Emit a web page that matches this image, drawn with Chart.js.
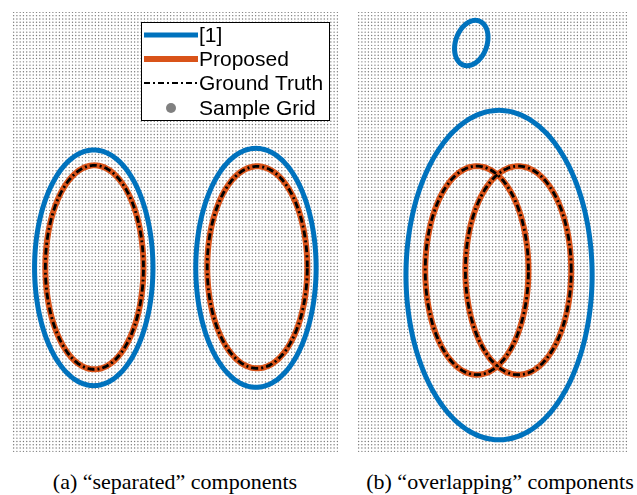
<!DOCTYPE html>
<html>
<head>
<meta charset="utf-8">
<script src="https://cdn.jsdelivr.net/npm/chart.js@4.4.0/dist/chart.umd.min.js"></script>
<style>
  body { margin: 0; background: #fff; width: 637px; height: 495px; position: relative; overflow: hidden; }
  canvas { position: absolute; }
  .cap { position: absolute; top: 469px; font-family: "Liberation Serif", "Times New Roman", serif; font-size: 22px; color: #000; white-space: nowrap; transform: translateX(-50%); }
</style>
</head>
<body>
<canvas id="left" width="336" height="449" style="left:8px;top:8px"></canvas>
<canvas id="right" width="280" height="449" style="left:353px;top:8px"></canvas>
<div class="cap" style="left:175px">(a) “separated” components</div>
<div class="cap" style="left:500px">(b) “overlapping” components</div>
<script>
// ellipse rows: cx, cy, rx, ry, tilt (deg) in sample-grid units
var separatedBaseline = [[25.0, 56.1, 18.1, 35.7, 0], [74.6, 56.1, 18.4, 36.2, 0]];
var separatedProposed = [[25.2, 56.25, 15.0, 30.9, 0], [75.0, 56.25, 15.3, 30.6, 0]];
var separatedTruth    = [[25.2, 56.25, 15.0, 30.9, 0], [75.0, 56.25, 15.3, 30.6, 0]];
var overlapBaseline   = [[35.0, 124.2, 4.8, 7.1, 20], [43.5, 53.9, 28.5, 49.9, 0]];
var overlapProposed   = [[36.7, 55.3, 15.8, 31.6, 0], [49.4, 55.3, 16.2, 31.6, 0]];
var overlapTruth      = [[36.7, 55.3, 15.8, 31.6, 0], [49.4, 55.3, 16.2, 31.6, 0]];

var gridColsLeft = 100, gridColsRight = 83, gridRows = 134;
var legendLabels = ['[1]', 'Proposed', 'Ground Truth', 'Sample Grid'];

var BLUE = '#0072BD', ORANGE = '#D95319';

function ellipsePoints(e) {
    var pts = [];
    var th = e[4] * Math.PI / 180;
    for (var i = 0; i <= 200; i++) {
        var t = i / 200 * 2 * Math.PI;
        var a = e[2] * Math.cos(t), b = e[3] * Math.sin(t);
        pts.push({ x: e[0] + a * Math.cos(th) + b * Math.sin(th), y: e[1] - a * Math.sin(th) + b * Math.cos(th) });
    }
    return pts;
}

function gridPoints(cols, rows) {
    var pts = [];
    for (var i = 0; i < cols; i++)
        for (var j = 0; j < rows; j++)
            pts.push({ x: i + 0.5, y: j + 0.5 });
    return pts;
}

var boxLegend = {
    id: 'boxLegend',
    afterDatasetsDraw: function (chart, args, opts) {
        if (!opts.show) return;
        var ctx = chart.ctx;
        ctx.save();
        ctx.fillStyle = '#fff';
        ctx.fillRect(133, 14, 188, 98);
        ctx.strokeStyle = '#000';
        ctx.lineWidth = 1;
        ctx.strokeRect(133.5, 14.5, 188, 98);
        var rows = [27, 51, 75, 100];
        var styles = [[BLUE, 5, []], [ORANGE, 6, []], ['#000', 2, [6, 3, 2, 3]]];
        for (var i = 0; i < 3; i++) {
            ctx.beginPath();
            ctx.strokeStyle = styles[i][0];
            ctx.lineWidth = styles[i][1];
            ctx.setLineDash(styles[i][2]);
            ctx.moveTo(136, rows[i]);
            ctx.lineTo(190, rows[i]);
            ctx.stroke();
        }
        ctx.setLineDash([]);
        ctx.fillStyle = '#808080';
        ctx.beginPath();
        ctx.arc(163, rows[3], 5, 0, 2 * Math.PI);
        ctx.fill();
        ctx.fillStyle = '#000';
        ctx.font = '21px "Liberation Sans", Arial, sans-serif';
        ctx.textBaseline = 'middle';
        legendLabels.forEach(function (l, i) { ctx.fillText(l, 191, rows[i] + 1); });
        ctx.restore();
    }
};

function curveSets(list, label, color, width, dash, order) {
    // small tension keeps Chart.js off its x-monotonic fast path, which mangles closed curves
    return list.map(function (e) {
        return { label: label, data: ellipsePoints(e), showLine: true, tension: 0.2, borderColor: color, borderWidth: width,
                 borderDash: dash, borderCapStyle: 'butt', borderJoinStyle: 'round', pointRadius: 0, order: order };
    });
}

function makePanel(id, cols, baseline, proposed, truth, showLegend) {
    var sets = []
        .concat(curveSets(truth, 'Ground Truth', '#000', 2.8, [7, 3, 2, 3], 1))
        .concat(curveSets(proposed, 'Proposed', ORANGE, 6, [], 2))
        .concat(curveSets(baseline, '[1]', BLUE, 5, [], 3));
    sets.push({ label: 'Sample Grid', data: gridPoints(cols, gridRows), pointRadius: 0.7, borderWidth: 0, backgroundColor: '#777', order: 10 });
    return new Chart(document.getElementById(id), {
        type: 'scatter',
        data: { datasets: sets },
        options: {
            responsive: false,
            animation: false,
            events: [],
            layout: { padding: 0 },
            scales: {
                x: { type: 'linear', min: 0, max: cols + 0.3, display: false },
                y: { type: 'linear', min: 0, max: 133.6, display: false }
            },
            plugins: { legend: { display: false }, tooltip: { enabled: false }, boxLegend: { show: showLegend } }
        },
        plugins: [boxLegend]
    });
}

makePanel('left', gridColsLeft, separatedBaseline, separatedProposed, separatedTruth, true);
makePanel('right', gridColsRight, overlapBaseline, overlapProposed, overlapTruth, false);
</script>
</body>
</html>
